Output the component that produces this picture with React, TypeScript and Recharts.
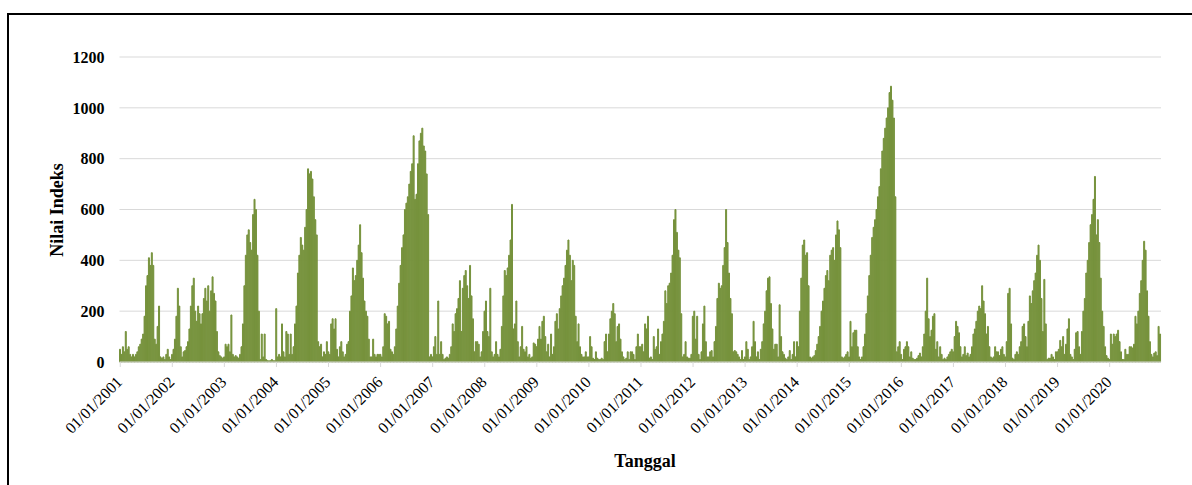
import React from "react";
import { BarChart, Bar, XAxis, YAxis, CartesianGrid } from "recharts";

// dasarian (10-day) index values, 36 per year
const y2001 = [50, 30, 60, 40, 120, 50, 60, 30, 20, 30, 20, 30, 40, 60, 70, 90, 110, 180, 300, 340, 410, 380, 430, 380, 90, 70, 140, 220, 20, 15, 20, 10, 30, 50, 20, 10];
const y2002 = [30, 50, 90, 180, 290, 220, 60, 20, 40, 45, 60, 80, 130, 220, 300, 330, 200, 160, 220, 190, 150, 190, 250, 290, 240, 300, 200, 280, 335, 270, 240, 120, 40, 25, 20, 15];
const y2003 = [20, 70, 60, 70, 40, 185, 30, 20, 25, 20, 15, 30, 60, 150, 300, 420, 500, 520, 470, 440, 580, 640, 600, 420, 200, 10, 110, 20, 110, 10, 5, 5, 5, 10, 5, 5];
const y2004 = [210, 20, 30, 20, 150, 40, 20, 120, 110, 30, 110, 30, 60, 150, 220, 350, 420, 490, 460, 440, 530, 600, 760, 740, 750, 720, 650, 560, 500, 80, 60, 70, 20, 40, 30, 80];
const y2005 = [40, 30, 150, 170, 130, 170, 50, 20, 60, 80, 40, 20, 30, 70, 80, 200, 260, 370, 320, 340, 400, 460, 540, 430, 330, 240, 200, 180, 90, 20, 20, 90, 30, 20, 30, 30];
const y2006 = [30, 20, 60, 190, 180, 150, 160, 50, 40, 30, 60, 130, 220, 310, 380, 450, 500, 600, 625, 650, 700, 750, 780, 890, 640, 660, 780, 870, 900, 920, 850, 830, 740, 580, 20, 30];
const y2007 = [20, 60, 100, 30, 240, 30, 80, 30, 10, 15, 20, 15, 30, 60, 150, 120, 190, 210, 250, 320, 120, 290, 340, 360, 300, 250, 380, 260, 170, 40, 80, 80, 70, 20, 40, 120];
const y2008 = [200, 240, 120, 100, 290, 40, 20, 30, 80, 30, 20, 50, 140, 260, 360, 340, 370, 420, 480, 620, 130, 150, 240, 80, 20, 60, 140, 50, 40, 60, 20, 30, 15, 20, 75, 70];
const y2009 = [60, 90, 140, 90, 160, 180, 100, 40, 70, 20, 110, 30, 60, 160, 190, 130, 210, 260, 300, 330, 380, 440, 480, 420, 320, 400, 380, 180, 80, 150, 60, 30, 20, 20, 40, 20];
const y2010 = [20, 100, 60, 15, 10, 40, 15, 10, 10, 15, 10, 80, 110, 40, 110, 170, 200, 230, 190, 80, 140, 150, 90, 40, 20, 10, 15, 40, 10, 40, 40, 30, 10, 60, 110, 60];
const y2011 = [60, 70, 40, 150, 130, 180, 15, 20, 10, 100, 50, 60, 130, 30, 80, 110, 160, 280, 230, 300, 310, 350, 420, 560, 600, 510, 440, 410, 190, 20, 30, 80, 20, 15, 15, 30];
const y2012 = [180, 200, 90, 180, 30, 10, 40, 150, 220, 80, 20, 20, 40, 45, 20, 80, 140, 250, 310, 290, 300, 380, 450, 600, 470, 350, 250, 190, 40, 45, 40, 30, 20, 10, 45, 10];
const y2013 = [20, 80, 50, 10, 20, 60, 160, 80, 20, 40, 10, 50, 80, 150, 200, 280, 330, 335, 230, 130, 50, 70, 70, 20, 225, 100, 40, 30, 15, 10, 20, 45, 10, 30, 80, 20];
const y2014 = [80, 60, 200, 330, 460, 480, 420, 430, 300, 20, 15, 20, 25, 45, 70, 100, 140, 200, 240, 290, 340, 360, 320, 420, 440, 450, 400, 500, 555, 520, 450, 20, 15, 20, 30, 40];
const y2015 = [20, 160, 60, 115, 125, 125, 60, 20, 10, 20, 60, 110, 190, 260, 340, 420, 490, 530, 560, 600, 650, 690, 760, 830, 880, 920, 960, 1000, 1060, 1085, 1030, 960, 650, 40, 60, 80];
const y2016 = [30, 10, 50, 60, 80, 60, 20, 40, 15, 10, 10, 15, 25, 35, 20, 60, 110, 200, 330, 170, 100, 125, 180, 190, 50, 80, 20, 60, 30, 10, 15, 10, 20, 30, 40, 50];
const y2017 = [40, 100, 160, 140, 115, 60, 20, 30, 60, 25, 35, 20, 30, 60, 110, 130, 160, 200, 220, 210, 300, 240, 190, 110, 140, 60, 20, 15, 20, 60, 40, 40, 25, 50, 60, 30];
const y2018 = [20, 80, 270, 290, 150, 15, 10, 30, 40, 30, 60, 80, 140, 150, 100, 60, 160, 260, 230, 280, 320, 350, 420, 460, 400, 250, 120, 325, 150, 10, 15, 15, 30, 20, 10, 40];
const y2019 = [40, 50, 85, 60, 100, 30, 70, 130, 170, 30, 20, 10, 50, 115, 120, 60, 30, 120, 200, 250, 350, 400, 470, 540, 580, 640, 730, 500, 560, 470, 330, 200, 140, 60, 25, 15];
const y2020 = [10, 110, 70, 110, 100, 110, 125, 80, 40, 10, 10, 50, 30, 30, 60, 60, 55, 70, 180, 150, 200, 270, 320, 400, 475, 440, 280, 180, 80, 30, 20, 35, 40, 25, 140, 110];

const years = [2001, 2002, 2003, 2004, 2005, 2006, 2007, 2008, 2009, 2010, 2011, 2012, 2013, 2014, 2015, 2016, 2017, 2018, 2019, 2020];
const yearValues = [y2001, y2002, y2003, y2004, y2005, y2006, y2007, y2008, y2009, y2010, y2011, y2012, y2013, y2014, y2015, y2016, y2017, y2018, y2019, y2020];
const dekadDays = ["01", "11", "21"];
const yTicks = [0, 200, 400, 600, 800, 1000, 1200];

const pad = (n: number) => (n < 10 ? "0" + n : "" + n);

const data = years.flatMap((yr, k) =>
  yearValues[k].map((v, i) => ({
    tanggal: `${dekadDays[i % 3]}/${pad(Math.floor(i / 3) + 1)}/${yr}`,
    nilai: v,
  }))
);

const FONT = "'Liberation Serif', 'Times New Roman', serif";
const GREEN = "#76923C";

function DateTick({ x, y, payload }: any) {
  return (
    <g transform={`translate(${x + 3},${y + 16}) rotate(-45)`}>
      <text x={0} y={0} textAnchor="end" fontSize={16} fill="#000" fontFamily={FONT}>
        {payload.value}
      </text>
    </g>
  );
}

export default function App() {
  return (
    <div style={{ position: "fixed", left: 0, top: 0, width: 1192, height: 485, overflow: "hidden", background: "#fff" }}>
      <div style={{ position: "absolute", left: 7, top: 13, width: 1200, height: 500, border: "2px solid #000", boxSizing: "border-box" }} />
      <div style={{ position: "absolute", left: 0, top: 0 }}>
        <BarChart width={1192} height={485} data={data} barCategoryGap={0} barGap={0}
          margin={{ top: 57, right: 31, left: 59.5, bottom: 33 }}>
          <CartesianGrid vertical={false} stroke="#d9d9d9" />
          <XAxis dataKey="tanggal" interval={35} height={90} tick={<DateTick />} tickSize={5} tickMargin={0}
            axisLine={{ stroke: "#d9d9d9" }} tickLine={{ stroke: "#d9d9d9" }} />
          <YAxis domain={[0, 1200]} ticks={yTicks} width={60} axisLine={false} tickLine={false} tickSize={0} tickMargin={15}
            tick={{ fill: "#000", fontSize: 16, fontWeight: "bold", fontFamily: FONT }} />
          <Bar dataKey="nilai" fill={GREEN} stroke={GREEN} strokeWidth={1} isAnimationActive={false} />
        </BarChart>
      </div>
      <div style={{ position: "absolute", left: 57, top: 210, transform: "translate(-50%, -50%) rotate(-90deg)", whiteSpace: "nowrap",
        fontFamily: FONT, fontWeight: "bold", fontSize: 18, color: "#000" }}>
        Nilai Indeks
      </div>
      <div style={{ position: "absolute", left: 645, top: 461, transform: "translate(-50%, -50%)", whiteSpace: "nowrap",
        fontFamily: FONT, fontWeight: "bold", fontSize: 18, color: "#000" }}>
        Tanggal
      </div>
    </div>
  );
}
